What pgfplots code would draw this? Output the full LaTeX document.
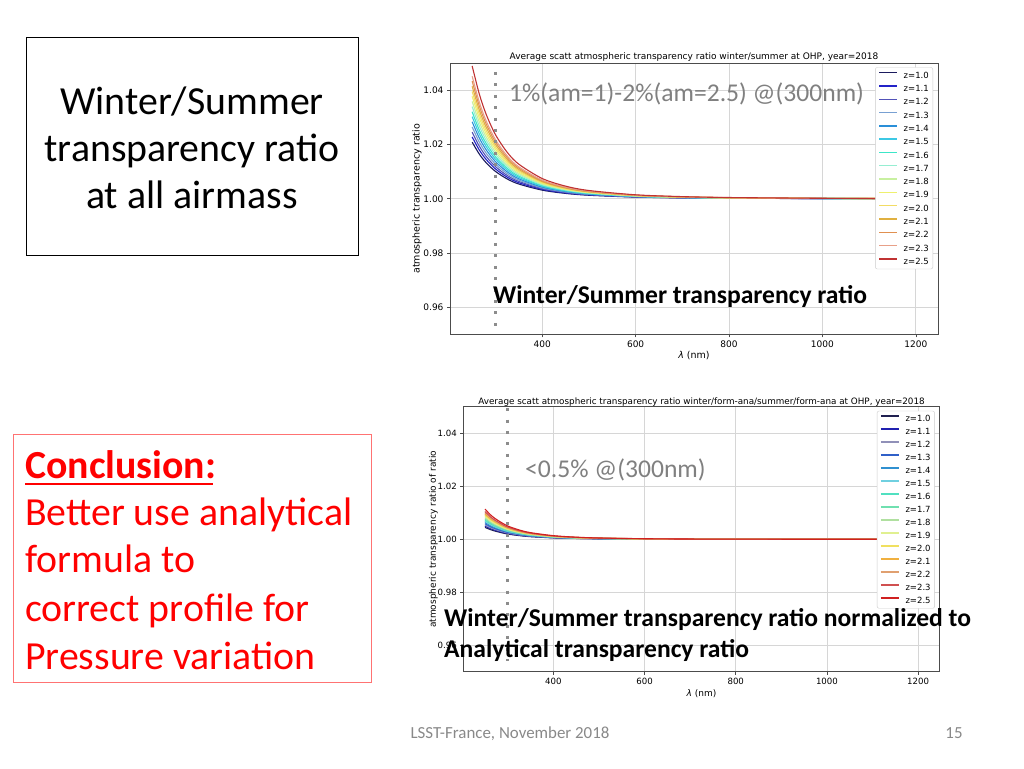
\documentclass[border=0pt]{standalone}
\usepackage{fontspec}
\setmainfont{Carlito}
\newfontfamily\mpl{DejaVu Sans}
\usepackage{pgfplots}
\usepackage{pgfplotstable}
\pgfplotsset{compat=1.18}

% jet-like colours of the airmass curves
\definecolor{c10}{HTML}{1B1B5E}
\definecolor{c11}{HTML}{2323C8}
\definecolor{c12}{HTML}{5252B8}
\definecolor{c13}{HTML}{78A0D2}
\definecolor{c14}{HTML}{2A8FD8}
\definecolor{c15}{HTML}{3CC8E4}
\definecolor{c16}{HTML}{3CE6C8}
\definecolor{c17}{HTML}{96EED2}
\definecolor{c18}{HTML}{C8F0A0}
\definecolor{c19}{HTML}{EEF06E}
\definecolor{c20}{HTML}{F2DC64}
\definecolor{c21}{HTML}{E0B040}
\definecolor{c22}{HTML}{E09050}
\definecolor{c23}{HTML}{E8A088}
\definecolor{c25}{HTML}{C03232}
\definecolor{d10}{HTML}{202050}
\definecolor{d11}{HTML}{2020B0}
\definecolor{d12}{HTML}{9090B8}
\definecolor{d13}{HTML}{3060C8}
\definecolor{d14}{HTML}{3090D0}
\definecolor{d15}{HTML}{70D0E0}
\definecolor{d16}{HTML}{50E0C0}
\definecolor{d17}{HTML}{70E0B0}
\definecolor{d18}{HTML}{B0E0A0}
\definecolor{d19}{HTML}{E0F090}
\definecolor{d20}{HTML}{F0E060}
\definecolor{d21}{HTML}{F0B040}
\definecolor{d22}{HTML}{E0A070}
\definecolor{d23}{HTML}{D05050}
\definecolor{d25}{HTML}{D02020}
\definecolor{slidegrey}{HTML}{808080}
\definecolor{footgrey}{HTML}{898989}

% winter/summer ratio
\pgfplotstableread{
lam z10 z11 z12 z13 z14 z15 z16 z17 z18 z19 z20 z21 z22 z23 z25
250 1.02090 1.02280 1.02460 1.02650 1.02840 1.03030 1.03210 1.03400 1.03590 1.03780 1.03960 1.04150 1.04340 1.04520 1.04900
265 1.01656 1.01806 1.01949 1.02099 1.02250 1.02400 1.02543 1.02693 1.02844 1.02994 1.03137 1.03287 1.03438 1.03580 1.03881
280 1.01328 1.01449 1.01563 1.01684 1.01805 1.01926 1.02040 1.02161 1.02281 1.02402 1.02517 1.02637 1.02758 1.02872 1.03114
300 1.01008 1.01100 1.01186 1.01278 1.01370 1.01461 1.01548 1.01640 1.01731 1.01823 1.01910 1.02002 1.02093 1.02180 1.02363
325 1.00732 1.00798 1.00861 1.00928 1.00994 1.01061 1.01124 1.01190 1.01257 1.01323 1.01386 1.01453 1.01519 1.01582 1.01715
350 1.00544 1.00593 1.00640 1.00690 1.00739 1.00789 1.00836 1.00885 1.00934 1.00984 1.01031 1.01080 1.01130 1.01177 1.01275
400 1.00319 1.00348 1.00375 1.00404 1.00433 1.00462 1.00490 1.00519 1.00548 1.00577 1.00604 1.00633 1.00662 1.00690 1.00748
450 1.00199 1.00217 1.00234 1.00253 1.00271 1.00289 1.00306 1.00324 1.00342 1.00360 1.00377 1.00396 1.00414 1.00431 1.00467
500 1.00131 1.00143 1.00154 1.00166 1.00178 1.00189 1.00201 1.00213 1.00224 1.00236 1.00248 1.00259 1.00271 1.00283 1.00306
600 1.00063 1.00069 1.00074 1.00080 1.00085 1.00091 1.00097 1.00102 1.00108 1.00114 1.00119 1.00125 1.00131 1.00136 1.00147
700 1.00034 1.00037 1.00040 1.00043 1.00046 1.00049 1.00052 1.00055 1.00059 1.00062 1.00065 1.00068 1.00071 1.00074 1.00080
800 1.00020 1.00022 1.00023 1.00025 1.00027 1.00029 1.00030 1.00032 1.00034 1.00036 1.00038 1.00039 1.00041 1.00043 1.00047
1000 1.00008 1.00009 1.00010 1.00010 1.00011 1.00012 1.00013 1.00013 1.00014 1.00015 1.00015 1.00016 1.00017 1.00018 1.00019
1200 1.00004 1.00004 1.00005 1.00005 1.00005 1.00006 1.00006 1.00006 1.00007 1.00007 1.00008 1.00008 1.00008 1.00009 1.00009
}\topdata

% same ratio normalised to the analytical one
\pgfplotstableread{
lam z10 z11 z12 z13 z14 z15 z16 z17 z18 z19 z20 z21 z22 z23 z25
250 1.00450 1.00496 1.00542 1.00588 1.00634 1.00680 1.00726 1.00772 1.00818 1.00864 1.00910 1.00956 1.01002 1.01048 1.01140
265 1.00347 1.00382 1.00417 1.00453 1.00488 1.00524 1.00559 1.00594 1.00630 1.00665 1.00701 1.00736 1.00772 1.00807 1.00878
280 1.00275 1.00303 1.00331 1.00359 1.00387 1.00415 1.00443 1.00471 1.00499 1.00527 1.00555 1.00583 1.00611 1.00639 1.00695
300 1.00198 1.00218 1.00238 1.00259 1.00279 1.00299 1.00319 1.00340 1.00360 1.00380 1.00400 1.00421 1.00441 1.00461 1.00502
325 1.00140 1.00154 1.00168 1.00182 1.00197 1.00211 1.00225 1.00239 1.00254 1.00268 1.00282 1.00296 1.00311 1.00325 1.00353
350 1.00099 1.00109 1.00119 1.00129 1.00139 1.00150 1.00160 1.00170 1.00180 1.00190 1.00200 1.00210 1.00220 1.00231 1.00251
400 1.00054 1.00060 1.00065 1.00071 1.00076 1.00082 1.00087 1.00093 1.00098 1.00104 1.00109 1.00115 1.00120 1.00126 1.00137
450 1.00032 1.00035 1.00038 1.00041 1.00044 1.00048 1.00051 1.00054 1.00057 1.00060 1.00064 1.00067 1.00070 1.00073 1.00080
500 1.00020 1.00022 1.00024 1.00026 1.00028 1.00030 1.00032 1.00034 1.00036 1.00038 1.00040 1.00042 1.00044 1.00046 1.00050
600 1.00009 1.00009 1.00010 1.00011 1.00012 1.00013 1.00014 1.00015 1.00016 1.00016 1.00017 1.00018 1.00019 1.00020 1.00022
700 1.00004 1.00004 1.00005 1.00005 1.00006 1.00006 1.00007 1.00007 1.00007 1.00008 1.00008 1.00009 1.00009 1.00009 1.00010
800 1.00002 1.00002 1.00003 1.00003 1.00003 1.00003 1.00004 1.00004 1.00004 1.00004 1.00005 1.00005 1.00005 1.00005 1.00006
1000 1.00001 1.00001 1.00001 1.00001 1.00001 1.00001 1.00001 1.00002 1.00002 1.00002 1.00002 1.00002 1.00002 1.00002 1.00002
1200 1.00000 1.00000 1.00000 1.00000 1.00000 1.00001 1.00001 1.00001 1.00001 1.00001 1.00001 1.00001 1.00001 1.00001 1.00001
}\botdata

\pgfplotsset{
  ratio chart/.style={
    scale only axis,
    xmin=202.5, xmax=1247.5, ymin=0.95, ymax=1.05,
    xtick={400,600,800,1000,1200},
    ytick={0.96,0.98,1.00,1.02,1.04},
    grid=major,
    major grid style={line width=0.7pt, draw=black!16},
    axis line style={line width=0.7pt, draw=black!70},
    tick style={line width=0.6pt, draw=black!70},
    tick align=outside, tick pos=left,
    major tick length=3pt,
    /pgf/number format/assume math mode=true,
    /pgf/number format/1000 sep={},
    y tick label style={/pgf/number format/.cd, fixed, fixed zerofill, precision=2},
    title style={inner sep=1pt},
    every axis plot/.append style={line width=1.1pt, no marks, smooth},
    legend cell align=left,
    legend image code/.code={\draw[##1, line width=1.4pt] (0pt,2.5pt) -- (18pt,2.5pt);},
    legend style={at={(1,1)}, anchor=north east, xshift=-5pt, yshift=-4pt,
      font=\mpl\fontsize{8.5}{10}\selectfont, draw=black!20, rounded corners=2pt,
      fill=white,
      inner xsep=3pt, inner ysep=3.5pt, row sep=5pt,
      nodes={inner sep=1pt, text height=6.3pt, text depth=0pt},
      /tikz/every odd column/.append style={column sep=5pt}},
  },
  marker line/.style={line width=3pt, black!45, dash pattern=on 3pt off 8.4pt, sharp plot, forget plot},
}

\begin{document}
\begin{tikzpicture}[x=1pt, y=1pt]
\fill[white] (0,0) rectangle (1024,768);
\useasboundingbox (0,0) rectangle (1024,768);

% upper chart
\begin{axis}[ratio chart,
    at={(450pt,433.7pt)}, anchor=south west, width=488pt, height=271pt,
    title={Average scatt atmospheric transparency ratio winter/summer at OHP, year=2018},
    title style={yshift=-5.5pt, font=\mpl\fontsize{9}{10}\selectfont},
    ticklabel style={font=\mpl\fontsize{9}{10}\selectfont},
    label style={font=\mpl\fontsize{9.5}{11}\selectfont},
    xlabel style={yshift=3pt},
    ylabel style={yshift=-5pt},
    xlabel={{\itshape λ} (nm)},
    ylabel={atmospheric transparency ratio}]
\addplot[c10] table[x=lam, y=z10] {\topdata}; \addlegendentry{z=1.0}
\addplot[c11] table[x=lam, y=z11] {\topdata}; \addlegendentry{z=1.1}
\addplot[c12] table[x=lam, y=z12] {\topdata}; \addlegendentry{z=1.2}
\addplot[c13] table[x=lam, y=z13] {\topdata}; \addlegendentry{z=1.3}
\addplot[c14] table[x=lam, y=z14] {\topdata}; \addlegendentry{z=1.4}
\addplot[c15] table[x=lam, y=z15] {\topdata}; \addlegendentry{z=1.5}
\addplot[c16] table[x=lam, y=z16] {\topdata}; \addlegendentry{z=1.6}
\addplot[c17] table[x=lam, y=z17] {\topdata}; \addlegendentry{z=1.7}
\addplot[c18] table[x=lam, y=z18] {\topdata}; \addlegendentry{z=1.8}
\addplot[c19] table[x=lam, y=z19] {\topdata}; \addlegendentry{z=1.9}
\addplot[c20] table[x=lam, y=z20] {\topdata}; \addlegendentry{z=2.0}
\addplot[c21] table[x=lam, y=z21] {\topdata}; \addlegendentry{z=2.1}
\addplot[c22] table[x=lam, y=z22] {\topdata}; \addlegendentry{z=2.2}
\addplot[c23] table[x=lam, y=z23] {\topdata}; \addlegendentry{z=2.3}
\addplot[c25] table[x=lam, y=z25] {\topdata}; \addlegendentry{z=2.5}
\addplot[marker line] coordinates {(300,1.0468) (300,0.9530)};
\end{axis}

% lower chart
\begin{axis}[ratio chart,
    at={(463.3pt,96.2pt)}, anchor=south west, width=476.5pt, height=265pt,
    title={Average scatt atmospheric transparency ratio winter/form-ana/summer/form-ana at OHP, year=2018},
    title style={yshift=-6.5pt, font=\mpl\fontsize{8.8}{10}\selectfont},
    ticklabel style={font=\mpl\fontsize{8.6}{10}\selectfont},
    label style={font=\mpl\fontsize{9}{11}\selectfont},
    xlabel style={yshift=2pt},
    ylabel style={yshift=-7pt},
    xlabel={{\itshape λ} (nm)},
    ylabel={atmospheric transparency ratio of ratio},
    legend style={row sep=4.7pt}]
\addplot[d10] table[x=lam, y=z10] {\botdata}; \addlegendentry{z=1.0}
\addplot[d11] table[x=lam, y=z11] {\botdata}; \addlegendentry{z=1.1}
\addplot[d12] table[x=lam, y=z12] {\botdata}; \addlegendentry{z=1.2}
\addplot[d13] table[x=lam, y=z13] {\botdata}; \addlegendentry{z=1.3}
\addplot[d14] table[x=lam, y=z14] {\botdata}; \addlegendentry{z=1.4}
\addplot[d15] table[x=lam, y=z15] {\botdata}; \addlegendentry{z=1.5}
\addplot[d16] table[x=lam, y=z16] {\botdata}; \addlegendentry{z=1.6}
\addplot[d17] table[x=lam, y=z17] {\botdata}; \addlegendentry{z=1.7}
\addplot[d18] table[x=lam, y=z18] {\botdata}; \addlegendentry{z=1.8}
\addplot[d19] table[x=lam, y=z19] {\botdata}; \addlegendentry{z=1.9}
\addplot[d20] table[x=lam, y=z20] {\botdata}; \addlegendentry{z=2.0}
\addplot[d21] table[x=lam, y=z21] {\botdata}; \addlegendentry{z=2.1}
\addplot[d22] table[x=lam, y=z22] {\botdata}; \addlegendentry{z=2.2}
\addplot[d23] table[x=lam, y=z23] {\botdata}; \addlegendentry{z=2.3}
\addplot[d25] table[x=lam, y=z25] {\botdata}; \addlegendentry{z=2.5}
\addplot[marker line] coordinates {(300,1.0495) (300,0.9540)};
\end{axis}

% slide text
\draw[black, line width=0.8pt] (26,513) rectangle (358,731);
\begin{scope}[every node/.style={anchor=base, font=\fontsize{39.8}{47}\selectfont, inner sep=0pt}]
\node at (192,653) {Winter/Summer};
\node at (192,606) {transparency ratio};
\node at (192,559) {at all airmass};
\end{scope}

\draw[red!55, line width=0.9pt] (13.3,85.3) rectangle (371,334);
\begin{scope}[every node/.style={anchor=base west, text=red, font=\fontsize{39.8}{47}\selectfont, inner sep=0pt}]
\node at (25,289.7) {\bfseries Conclusion:};
\node at (25,242) {Better use analytical};
\node at (25,195.3) {formula to};
\node at (25,146.3) {correct profile for};
\node at (25,98.7) {Pressure variation};
\end{scope}
\draw[red, line width=2.3pt] (25,283.7) -- (213,283.7);

\begin{scope}[every node/.style={anchor=base west, font=\fontsize{25.6}{31}\selectfont, inner sep=0pt}]
\node[text=slidegrey] at (509,666.5) {1\%(am=1)-2\%(am=2.5) @(300nm)};
\node[font=\bfseries\fontsize{25.6}{31}\selectfont] at (493,464) {Winter/Summer transparency ratio};
\node[text=slidegrey] at (525,290.5) {<0.5\% @(300nm)};
\node[font=\bfseries\fontsize{25.6}{31}\selectfont] at (444,142) {Winter/Summer transparency ratio normalized to};
\node[font=\bfseries\fontsize{25.6}{31}\selectfont] at (444,111) {Analytical transparency ratio};
\end{scope}

\node[anchor=base, text=footgrey, font=\fontsize{16.9}{20}\selectfont, inner sep=0pt] at (510,29.5) {LSST-France, November 2018};
\node[anchor=base, text=footgrey, font=\fontsize{16.9}{20}\selectfont, inner sep=0pt] at (954,29.5) {15};
\end{tikzpicture}
\end{document}
